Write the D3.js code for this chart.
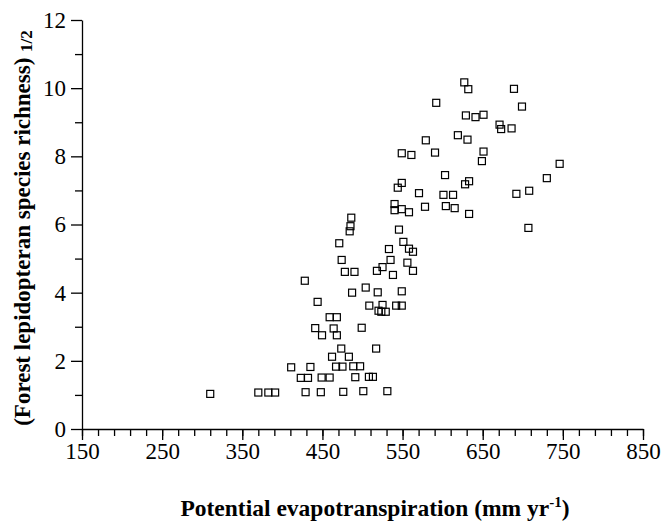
<!DOCTYPE html>
<html><head><meta charset="utf-8">
<script src="https://cdn.jsdelivr.net/npm/d3@7"></script>
<style>body{margin:0;background:#fff}</style>
</head><body>
<svg id="c" width="668" height="526"></svg>
<script>
// Potential evapotranspiration (mm/yr)
const pet = [310,370,382.5,391,429,448,476,501,531,411,435,423,432,449,459,467,475,488.5,497,491,508,513,
  462,473.5,483,517,441,449.5,464,468,499,459,468,444,428,487,504,519,508.5,520,478,490,518,474,
  549,561,590.5,651,649,746,730,692,708,707,603,544,549,570.5,601,613,628,633,540,540,549,558,578,604,615,633,
  545.5,551,558,563,533,535,556,563,525,538,549,525,523.5,529,542,549,
  627,632,689,699,629,641,651,671,673,686,619,631,592,579,486,485,484,471];
// (Forest lepidopteran species richness)^1/2
const richness = [1.03,1.07,1.07,1.07,1.08,1.08,1.09,1.11,1.11,1.81,1.82,1.50,1.50,1.51,1.51,1.83,1.83,1.84,1.84,1.52,1.53,1.53,
  2.12,2.36,2.12,2.36,2.96,2.75,2.95,2.75,2.97,3.28,3.28,3.73,4.35,4.0,4.15,4.01,3.62,3.47,4.61,4.61,4.64,4.96,
  8.09,8.04,8.11,8.14,7.86,7.78,7.36,6.90,6.99,5.90,7.45,7.08,7.22,6.92,6.87,6.87,7.18,7.27,6.60,6.42,6.45,6.36,6.52,6.54,6.48,6.31,
  5.85,5.49,5.29,5.20,5.28,4.96,4.88,4.64,4.75,4.52,4.04,3.64,3.44,3.44,3.62,3.62,
  10.17,9.97,9.98,9.46,9.20,9.15,9.22,8.93,8.80,8.82,8.62,8.49,9.57,8.47,6.20,5.95,5.80,5.45];
const xMajorTicks = [150,250,350,450,550,650,750,850];
const yMajorTicks = [0,2,4,6,8,10,12];

const svg = d3.select("#c");
const font = "'Liberation Serif','Times New Roman',serif";
const x = d3.scaleLinear().domain([150,850]).range([82,643]);
const y = d3.scaleLinear().domain([0,12]).range([429,20]);

// axes
const gx = svg.append("g").attr("transform","translate(0,429)");
gx.call(d3.axisBottom(x).tickValues(d3.range(150,851,20)).tickSize(7).tickFormat(""));
gx.call(g=>g.select(".domain").remove());
const gx2 = svg.append("g").attr("transform","translate(0,429)");
gx2.call(d3.axisBottom(x).tickValues(xMajorTicks).tickSize(11).tickSizeOuter(0).tickPadding(3));
gx2.selectAll("text").attr("font-family",font).attr("font-size",23).attr("fill","#000");

const gy = svg.append("g").attr("transform","translate(82,0)");
gy.call(d3.axisLeft(y).tickValues(d3.range(1,12,2)).tickSize(7).tickFormat(""));
gy.call(g=>g.select(".domain").remove());
const gy2 = svg.append("g").attr("transform","translate(82,0)");
gy2.call(d3.axisLeft(y).tickValues(yMajorTicks).tickSize(11).tickSizeOuter(0).tickPadding(5));
gy2.selectAll("text").attr("font-family",font).attr("font-size",23).attr("fill","#000");
svg.selectAll(".domain,.tick line").attr("stroke","#000").attr("stroke-width",1.3);

// points
const s = 7;
svg.append("g").selectAll("rect").data(pet.map((v,i)=>[v,richness[i]])).join("rect")
  .attr("x",d=>x(d[0])-s/2).attr("y",d=>y(d[1])-s/2).attr("width",s).attr("height",s)
  .attr("fill","none").attr("stroke","#000").attr("stroke-width",1.2);

// x title
const xt = svg.append("text").attr("x",375).attr("y",516).attr("text-anchor","middle")
  .attr("font-family",font).attr("font-weight","bold").attr("font-size",23.5);
xt.append("tspan").text("Potential evapotranspiration (mm yr");
xt.append("tspan").attr("font-size",15).attr("dy",-9).text("-1");
xt.append("tspan").attr("dy",9).text(")");

// y title
const yt = svg.append("text").attr("transform","translate(30,228) rotate(-90)").attr("text-anchor","middle")
  .attr("font-family",font).attr("font-weight","bold").attr("font-size",23);
yt.append("tspan").text("(Forest lepidopteran species richness) ");
yt.append("tspan").attr("font-size",17).attr("dy",2).text("1/2");
</script>
</body></html>
